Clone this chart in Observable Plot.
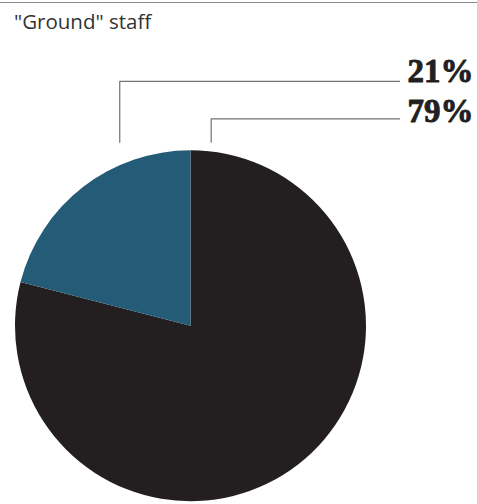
<!DOCTYPE html>
<html><head><meta charset="utf-8">
<script src="https://cdn.jsdelivr.net/npm/d3@7"></script>
<script src="https://cdn.jsdelivr.net/npm/@observablehq/plot@0.6"></script>
<style>
body{margin:0;background:#fff;}
#wrap{width:477px;height:504px;position:relative;overflow:hidden;background:#fff;}
#rule{position:absolute;left:0;top:2px;width:477px;height:0;border-top:1.5px solid #8c8c8c;}
#title{position:absolute;left:14px;top:7px;font-family:"Open Sans";font-size:20.5px;line-height:normal;color:#333;white-space:nowrap;}
#chart{position:absolute;left:0;top:40px;}
</style></head>
<body>
<div id="wrap"><div id="rule"></div><div id="title"></div><div id="chart"></div></div>
<script>
const title = "\"Ground\" staff";
const categories = ["Other", "Ground"];
const shares = [79, 21];
const labels = ["79%", "21%"];
const colors = ["#231f20", "#245b77"];

// annotation layout (unit pie coordinates)
const leaderX = [0.115, -0.406];
const leaderElbowY = [1.183, 1.397];
const leaderBaseY = 1.05;
const leaderEndX = 1.188;
const labelX = 1.61;
const labelY = [1.165, 1.392];

document.getElementById("title").textContent = title;

const slices = d3.pie().sort(null).value(d => d.value)(
  categories.map((c, i) => ({category: c, value: shares[i], color: colors[i], label: labels[i]}))
);

const leaders = [];
categories.forEach((c, i) => {
  leaders.push({k: c, x: leaderX[i], y: leaderBaseY});
  leaders.push({k: c, x: leaderX[i], y: leaderElbowY[i]});
  leaders.push({k: c, x: leaderEndX, y: leaderElbowY[i]});
});
const labelRows = categories.map((c, i) => ({x: labelX, y: labelY[i], text: labels[i]}));

function pieMark(index, scales, values, dims) {
  const cx = scales.x(0), cy = scales.y(0);
  const r = (scales.x(1) - scales.x(-1)) / 2;
  const g = d3.create("svg:g").attr("transform", `translate(${cx},${cy})`);
  const arc = d3.arc().innerRadius(0).outerRadius(r);
  g.selectAll("path").data(slices).join("path")
    .attr("d", arc).attr("fill", d => d.data.color);
  return g.node();
}

const chart = Plot.plot({
  width: 477,
  height: 464,
  marginLeft: 15,
  marginRight: 111,
  marginTop: 110.5,
  marginBottom: 3,
  x: {domain: [-1, 1], axis: null},
  y: {domain: [-1, 1], axis: null},
  style: {background: "transparent"},
  marks: [
    pieMark,
    Plot.line(leaders, {x: "x", y: "y", z: "k", stroke: "#727272", strokeWidth: 1.2, curve: "linear"}),
    Plot.text(labelRows, {x: "x", y: "y", text: "text", textAnchor: "end", lineAnchor: "bottom",
      fontFamily: "Liberation Serif", fontWeight: "bold", fontSize: 33, fill: "#231f20",
      stroke: "#231f20", strokeWidth: 0.9})
  ]
});
document.getElementById("chart").appendChild(chart);
</script>
</body></html>
